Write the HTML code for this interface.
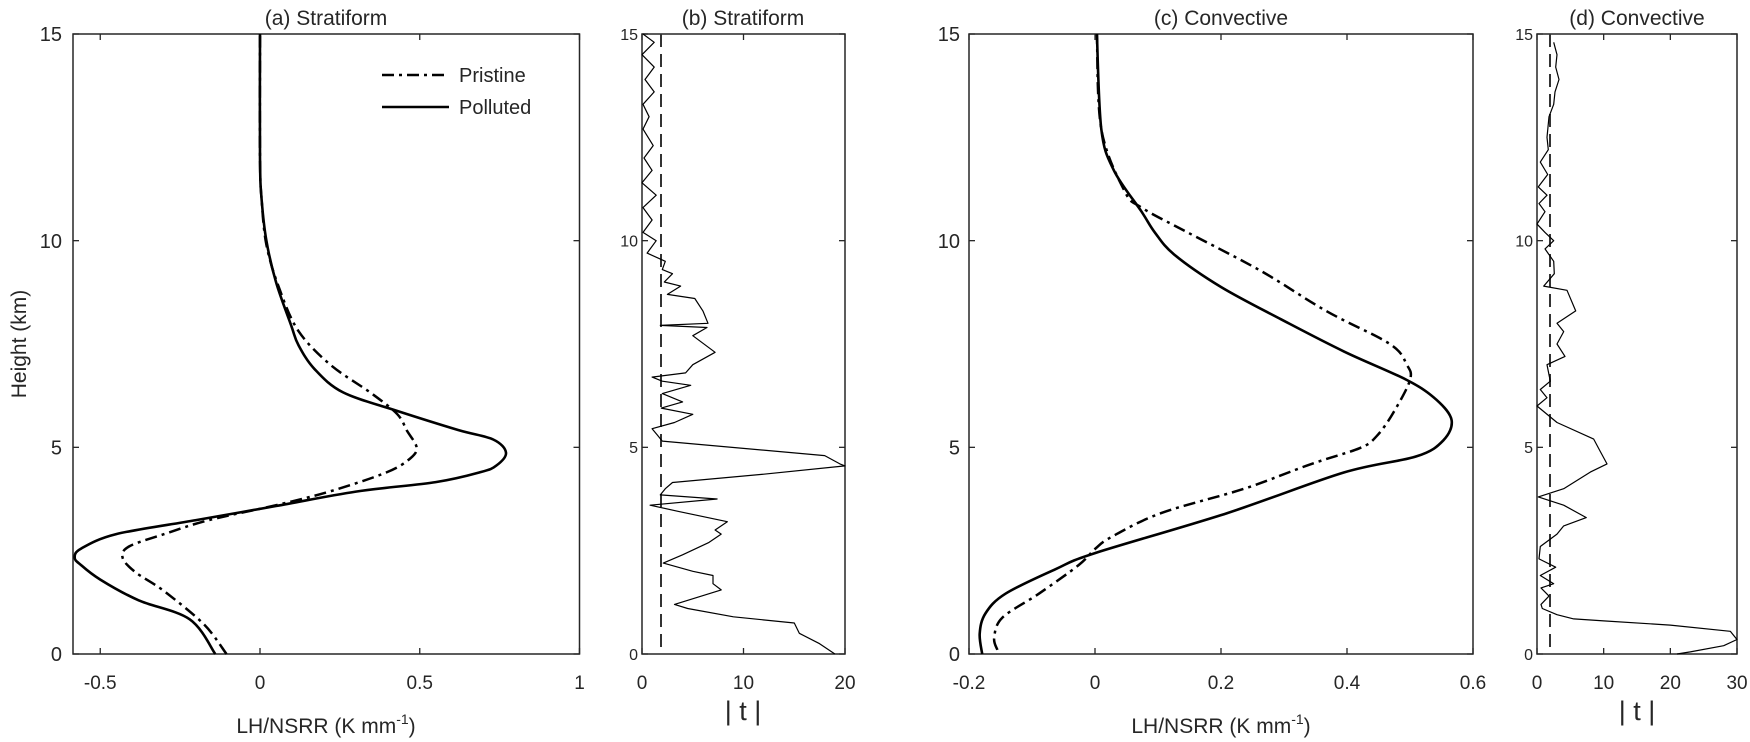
<!DOCTYPE html>
<html><head><meta charset="utf-8"><style>
html,body{margin:0;padding:0;background:#fff}
svg{display:block}
text{font-family:"Liberation Sans",Arial,sans-serif;fill:#262626}
</style></head><body>
<svg id="s" width="1750" height="742" viewBox="0 0 1750 742" xmlns="http://www.w3.org/2000/svg">
<g id="g"></g>
<text x="326" y="25" font-size="21" text-anchor="middle">(a) Stratiform</text>
<text x="743" y="25" font-size="21" text-anchor="middle">(b) Stratiform</text>
<text x="1221" y="25" font-size="21" text-anchor="middle">(c) Convective</text>
<text x="1637" y="25" font-size="21" text-anchor="middle">(d) Convective</text>
<text transform="translate(26,344) rotate(-90)" font-size="21" text-anchor="middle">Height (km)</text>
<text x="326" y="733" font-size="21" text-anchor="middle">LH/NSRR (K mm<tspan dy="-9" font-size="14">-1</tspan><tspan dy="9">)</tspan></text>
<text x="1221" y="733" font-size="21" text-anchor="middle">LH/NSRR (K mm<tspan dy="-9" font-size="14">-1</tspan><tspan dy="9">)</tspan></text>
<text x="743" y="720" font-size="27" text-anchor="middle">| t |</text>
<text x="1637" y="720" font-size="27" text-anchor="middle">| t |</text>
<line x1="382" y1="75" x2="449" y2="75" stroke="#000" stroke-width="2.5" stroke-dasharray="12 5 3 5"/>
<line x1="382" y1="107" x2="449" y2="107" stroke="#000" stroke-width="2.5"/>
<text x="459" y="82" font-size="20">Pristine</text>
<text x="459" y="114" font-size="20">Polluted</text>
</svg>
<script>
var g=document.getElementById('g'),NS='http://www.w3.org/2000/svg';
function el(n,a){var e=document.createElementNS(NS,n);for(var k in a)e.setAttribute(k,a[k]);g.appendChild(e);return e;}
var T=34,B=654;function Y(h){return B-(B-T)*h/15;}
function panel(L,R,x0,sc,xt,yfs,ylx){
 el('rect',{x:L,y:T,width:R-L,height:B-T,fill:'none',stroke:'#262626','stroke-width':1.5});
 xt.forEach(function(v){var x=x0+sc*v;
  el('line',{x1:x,y1:B,x2:x,y2:B-6,stroke:'#262626','stroke-width':1.3});
  el('line',{x1:x,y1:T,x2:x,y2:T+6,stroke:'#262626','stroke-width':1.3});
  var t=el('text',{x:x,y:689,'font-size':19,'text-anchor':'middle'});t.textContent=(v<0?'-':'')+String(Math.abs(v));});
 [0,5,10,15].forEach(function(h){var y=Y(h);
  el('line',{x1:L,y1:y,x2:L+6,y2:y,stroke:'#262626','stroke-width':1.3});
  el('line',{x1:R,y1:y,x2:R-6,y2:y,stroke:'#262626','stroke-width':1.3});
  var t=el('text',{x:ylx,y:y+yfs*0.36,'font-size':yfs,'text-anchor':'end'});t.textContent=h;});
}
function line(pts,x0,sc,attrs,smooth){
 var P=pts.map(function(p){return [x0+sc*p[1],Y(p[0])];});
 var d='M'+P[0][0].toFixed(1)+' '+P[0][1].toFixed(1);
 for(var i=1;i<P.length;i++){
  if(!smooth){d+='L'+P[i][0].toFixed(1)+' '+P[i][1].toFixed(1);continue;}
  var p0=P[Math.max(i-2,0)],p1=P[i-1],p2=P[i],p3=P[Math.min(i+1,P.length-1)];
  var c1x=p1[0]+(p2[0]-p0[0])/6,c1y=p1[1]+(p2[1]-p0[1])/6,c2x=p2[0]-(p3[0]-p1[0])/6,c2y=p2[1]-(p3[1]-p1[1])/6;
  d+='C'+c1x.toFixed(1)+' '+c1y.toFixed(1)+' '+c2x.toFixed(1)+' '+c2y.toFixed(1)+' '+p2[0].toFixed(1)+' '+p2[1].toFixed(1);
 }
 var a={d:d,fill:'none',stroke:'#000','stroke-linejoin':'round'};for(var k in attrs)a[k]=attrs[k];el('path',a);}
// panel a
panel(73,579.5,260,319.5,[-0.5,0,0.5,1],20,62);
var aPol=[[0,-0.14],[0.84,-0.22],[1.3,-0.38],[1.8,-0.5],[2.15,-0.56],[2.33,-0.58],[2.55,-0.56],[2.9,-0.45],[3.24,-0.2],[3.58,0.05],[3.93,0.3],[4.16,0.55],[4.4,0.69],[4.56,0.74],[4.87,0.77],[5.19,0.73],[5.42,0.62],[5.88,0.43],[6.33,0.26],[6.9,0.17],[7.48,0.12],[7.94,0.098],[9.0,0.05],[10,0.02],[11,0.005],[12,0],[15,0]];
var aPri=[[0,-0.105],[0.72,-0.176],[1.52,-0.3],[1.98,-0.39],[2.33,-0.43],[2.6,-0.41],[2.9,-0.3],[3.24,-0.16],[3.6,0.05],[3.93,0.217],[4.39,0.395],[4.73,0.47],[5.0,0.49],[5.4,0.46],[5.8,0.43],[6.3,0.35],[7.0,0.22],[7.82,0.12],[8.85,0.06],[9.9,0.02],[11,0.005],[12,0],[15,0]];
line(aPri,260,319.5,{'stroke-width':2.5,'stroke-dasharray':'12 5 3 5'},true);
line(aPol,260,319.5,{'stroke-width':2.6},true);
// panel b
panel(642,845,642,10.15,[0,10,20],16,638);
el('line',{x1:661,y1:T,x2:661,y2:B,stroke:'#333','stroke-width':2,'stroke-dasharray':'13 7'});
var bT=[[15,0.1],[14.8,1.2],[14.5,0],[14.2,1.2],[13.9,0.3],[13.6,1.2],[13.3,0.1],[13.0,0.7],[12.7,0.1],[12.3,1.1],[12.0,0.2],[11.7,1.0],[11.4,0],[11.1,1.4],[10.8,0.1],[10.5,1.0],[10.2,0.1],[10.0,1.4],[9.7,0.5],[9.5,2.3],[9.3,2.0],[9.2,3.0],[9.0,2.2],[8.9,3.8],[8.7,2.5],[8.6,5.2],[8.3,6.0],[8.0,6.5],[7.95,1.8],[7.9,6.4],[7.7,5.0],[7.3,7.2],[7.0,5.0],[6.8,4.3],[6.7,1.0],[6.6,2.0],[6.5,4.8],[6.3,2.0],[6.1,4.0],[5.95,1.9],[5.8,5.0],[5.6,3.2],[5.45,1.0],[5.3,1.5],[5.15,2.0],[4.8,18],[4.6,19.5],[4.55,20],[4.35,12],[4.15,3],[4.0,2.3],[3.85,1.8],[3.75,7.4],[3.6,0.8],[3.45,3.6],[3.2,8.4],[3.0,7.2],[2.9,7.8],[2.7,6.6],[2.4,4.0],[2.2,2.1],[2.0,5.0],[1.9,7.0],[1.7,7.0],[1.55,7.8],[1.2,3.2],[1.1,4.5],[0.9,9.0],[0.75,15],[0.5,15.5],[0.25,17.5],[0,19]];
line(bT,642,10.15,{'stroke-width':1.2},false);
// panel c
panel(969,1473,1095,630,[-0.2,0,0.2,0.4,0.6],20,960);
var cPol=[[0,-0.179],[0.49,-0.183],[0.98,-0.174],[1.46,-0.142],[2.05,-0.063],[2.44,0],[3.41,0.21],[4.39,0.395],[4.78,0.51],[5.17,0.553],[5.66,0.566],[6.15,0.542],[6.63,0.495],[7.32,0.395],[8.1,0.295],[8.88,0.2],[9.66,0.126],[10.2,0.095],[10.7,0.074],[11.7,0.03],[12.7,0.01],[15,0.003]];
var cPri=[[0.1,-0.155],[0.39,-0.16],[0.88,-0.147],[1.46,-0.089],[2.15,-0.026],[2.54,0],[2.83,0.026],[3.41,0.105],[4.0,0.237],[4.59,0.342],[4.98,0.42],[5.27,0.447],[5.85,0.474],[6.63,0.5],[7.0,0.495],[7.5,0.468],[8.29,0.368],[9.27,0.263],[10.2,0.147],[10.8,0.074],[11.2,0.047],[12.7,0.01],[15,0.003]];
line(cPri,1095,630,{'stroke-width':2.5,'stroke-dasharray':'12 5 3 5'},true);
line(cPol,1095,630,{'stroke-width':2.6},true);
// panel d
panel(1537,1737,1537,6.667,[0,10,20,30],16,1533);
el('line',{x1:1550,y1:T,x2:1550,y2:B,stroke:'#333','stroke-width':2,'stroke-dasharray':'13 7'});
var dT=[[14.8,2.5],[14.5,3.0],[14.2,2.8],[13.9,3.3],[13.6,2.7],[13.3,2.5],[13.0,1.8],[12.5,1.5],[12.2,1.7],[11.9,0.5],[11.6,1.6],[11.3,0.2],[11.1,1.5],[10.9,0.3],[10.7,1.2],[10.4,0],[10.2,1.2],[10.0,2.5],[9.8,1.2],[9.5,2.5],[9.2,2.6],[8.9,1.0],[8.8,4.5],[8.3,5.8],[8.0,3.0],[7.8,4.0],[7.5,3.0],[7.2,4.2],[7.0,1.5],[6.6,2.0],[6.4,0.5],[6.2,1.5],[6.0,0],[5.6,3.0],[5.2,8.5],[4.9,9.5],[4.6,10.5],[4.4,8],[4.0,4],[3.8,0.2],[3.6,4.0],[3.3,7.4],[3.1,4.0],[2.9,3.0],[2.6,0.5],[2.3,0.3],[2.1,2.8],[1.9,0.5],[1.7,2.5],[1.6,0.6],[1.4,1.8],[1.2,0.6],[1.1,0.8],[0.95,3.0],[0.85,5.5],[0.8,10],[0.7,20],[0.55,29],[0.35,30],[0.2,28],[0.05,23],[0,21]];
line(dT,1537,6.667,{'stroke-width':1.2},false);
</script>
</body></html>
